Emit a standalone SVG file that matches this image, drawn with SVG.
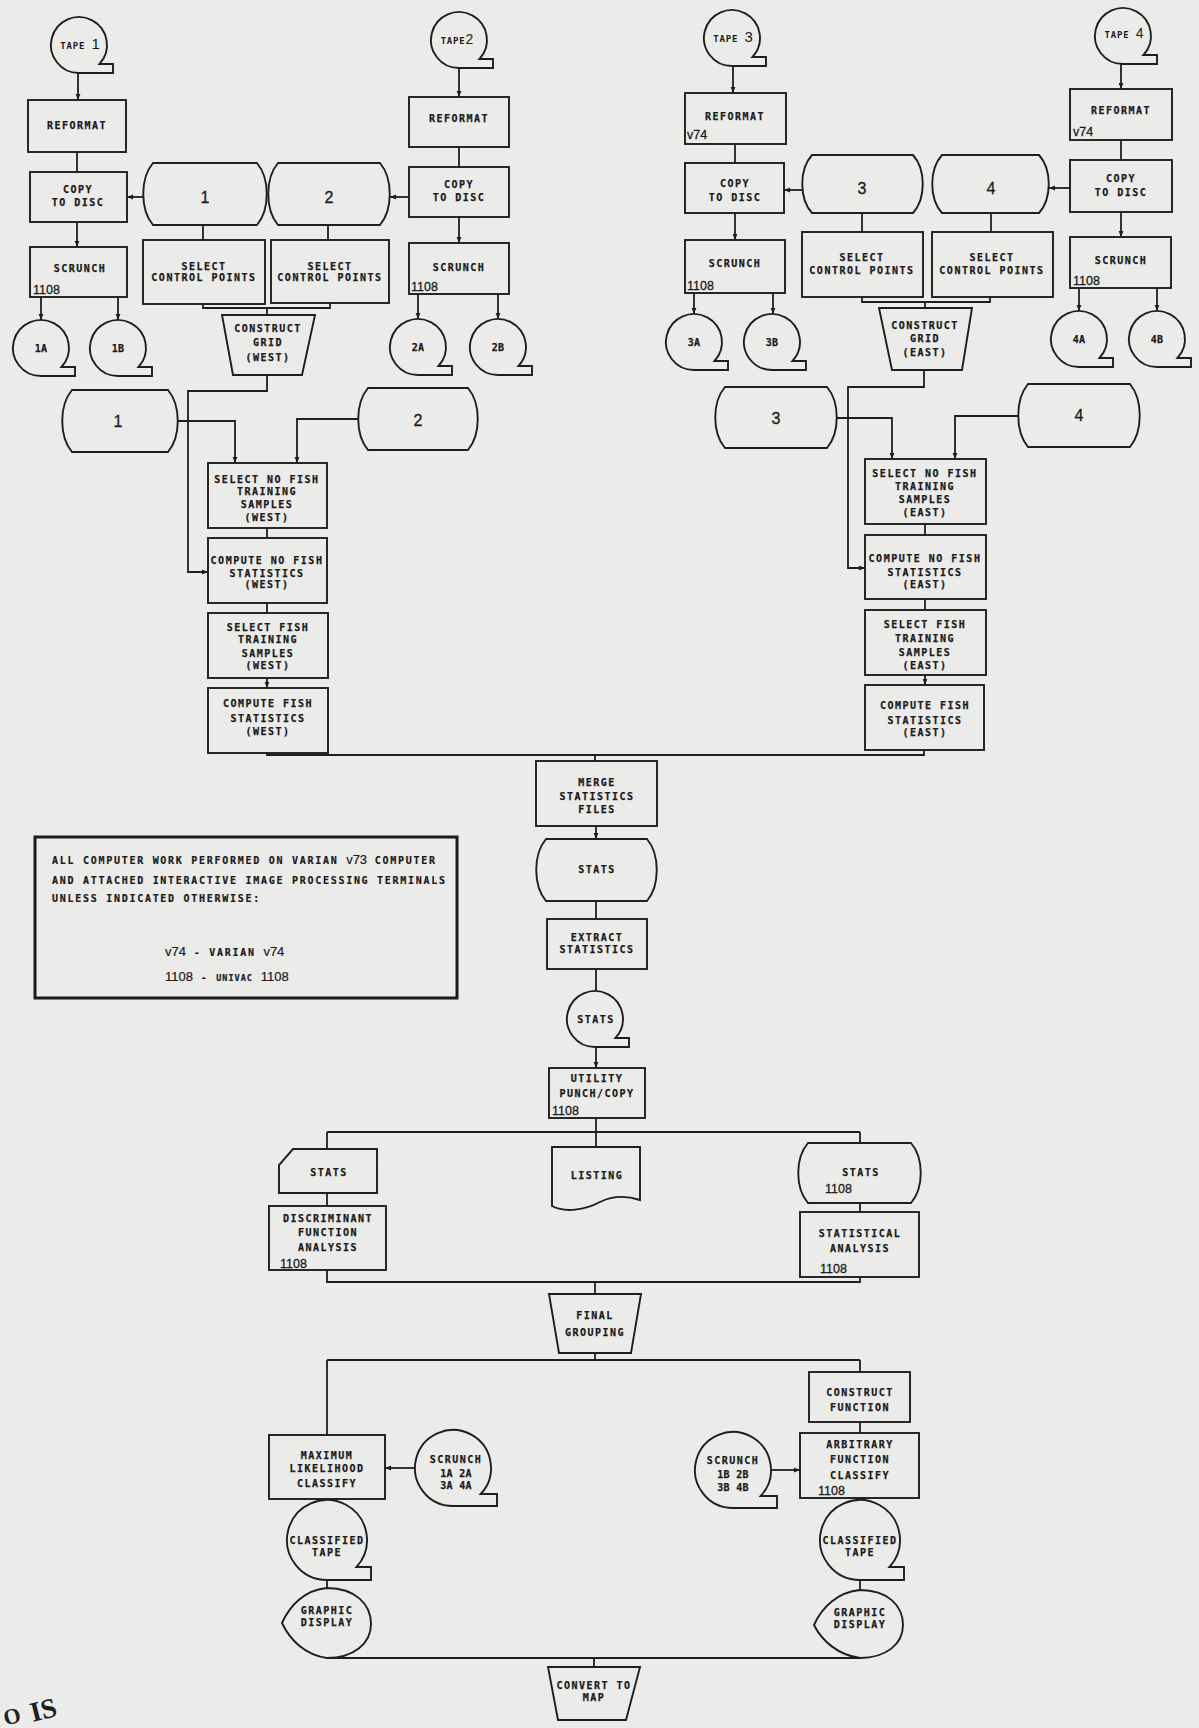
<svg xmlns="http://www.w3.org/2000/svg" xmlns:xlink="http://www.w3.org/1999/xlink" width="1199" height="1728" viewBox="0 0 1199 1728">
<style>
.s{fill:none;stroke:#1e1e1e;stroke-width:1.9}
.c{fill:none;stroke:#1e1e1e;stroke-width:1.8}
.a{marker-end:url(#ah)}
.t{font-family:"DejaVu Sans Mono","Liberation Mono",monospace;font-size:10px;font-weight:bold;letter-spacing:1.5px;fill:#1a1a1a;stroke:#1a1a1a;stroke-width:0.25px;text-anchor:middle}
.tp{font-family:"DejaVu Sans Mono","Liberation Mono",monospace;font-size:9px;font-weight:bold;letter-spacing:0.8px;fill:#1a1a1a;text-anchor:middle}
.z{letter-spacing:0.3px}
.n{font-family:"Liberation Sans",Arial,sans-serif;font-size:12.5px;fill:#1a1a1a;stroke:#1a1a1a;stroke-width:0.3px}
.hn{font-family:"Liberation Sans",Arial,sans-serif;font-size:13px;font-weight:normal;letter-spacing:0px}
.big{font-family:"Liberation Sans",Arial,sans-serif;font-size:16px;fill:#1a1a1a;stroke:#1a1a1a;stroke-width:0.3px;text-anchor:middle}
.lg{font-family:"DejaVu Sans Mono","Liberation Mono",monospace;font-size:10px;font-weight:bold;letter-spacing:1.72px;fill:#1a1a1a;stroke:#1a1a1a;stroke-width:0.2px}
</style>
<defs>
<marker id="ah" viewBox="0 0 10 10" refX="10" refY="5" markerWidth="6" markerHeight="6" markerUnits="userSpaceOnUse" orient="auto"><path d="M0,1 L10,5 L0,9 Z" fill="#1e1e1e"/></marker>
<path id="tp" d="M0,28 A28,28 0 1 1 20.5,19 H34 V28 Z"/>
<path id="tp38" d="M0,38 A38,38 0 1 1 27.7,26 H44 V38 Z"/>
<path id="tp40" d="M0,40 A40,40 0 1 1 29.5,27 H44 V40 Z"/>
</defs>
<rect x="0" y="0" width="1199" height="1728" fill="#ebebea"/>

<g id="connectors">
<path class="c a" d="M78,73 V100"/>
<path class="c" d="M77,152 V172"/>
<path class="c a" d="M77,222 V247"/>
<path class="c a" d="M41,297 V320"/>
<path class="c a" d="M118,297 V320"/>
<path class="c a" d="M143,197 H127"/>
<path class="c" d="M203,225 V240"/>
<path class="c" d="M328,225 V240"/>
<path class="c" d="M203,304 V308 H330 V303"/>
<path class="c" d="M267,308 V315"/>
<path class="c a" d="M267,375 V391 H188 V572 H208"/>
<path class="c a" d="M178,421 H235 V463"/>
<path class="c a" d="M358,419 H297 V463"/>
<path class="c" d="M267,528 V538"/>
<path class="c" d="M267,603 V613"/>
<path class="c a" d="M267,678 V688"/>
<path class="c a" d="M459,68 V97"/>
<path class="c" d="M459,147 V167"/>
<path class="c a" d="M459,217 V243"/>
<path class="c a" d="M409,197 H390"/>
<path class="c a" d="M418,294 V319"/>
<path class="c a" d="M498,294 V319"/>
<path class="c a" d="M733,66 V93"/>
<path class="c" d="M735,144 V163"/>
<path class="c a" d="M735,213 V240"/>
<path class="c a" d="M802,190 H784"/>
<path class="c" d="M862,213 V232"/>
<path class="c" d="M991,213 V232"/>
<path class="c" d="M862,297 V302 H990 V297"/>
<path class="c" d="M925,302 V308"/>
<path class="c a" d="M924,370 V387 H848 V568 H865"/>
<path class="c a" d="M837,418 H892 V459"/>
<path class="c a" d="M1018,416 H955 V459"/>
<path class="c" d="M925,524 V535"/>
<path class="c" d="M925,599 V610"/>
<path class="c a" d="M925,675 V685"/>
<path class="c a" d="M694,293 V314"/>
<path class="c a" d="M773,293 V314"/>
<path class="c a" d="M1121,64 V89"/>
<path class="c" d="M1121,140 V160"/>
<path class="c a" d="M1121,212 V237"/>
<path class="c a" d="M1070,188 H1049"/>
<path class="c a" d="M1079,288 V311"/>
<path class="c a" d="M1157,288 V311"/>
<path class="c" d="M267,753 V755 H924 V750"/>
<path class="c" d="M595,755 V761"/>
<path class="c a" d="M596,826 V839"/>
<path class="c" d="M596,901 V919"/>
<path class="c" d="M596,969 V991"/>
<path class="c a" d="M596,1047 V1068"/>
<path class="c" d="M596,1118 V1132"/>
<path class="c" d="M327,1132 H860"/>
<path class="c" d="M327,1132 V1149"/>
<path class="c" d="M596,1132 V1147"/>
<path class="c" d="M860,1132 V1143"/>
<path class="c" d="M327,1193 V1206"/>
<path class="c" d="M860,1203 V1212"/>
<path class="c" d="M327,1270 V1282 H860 V1277"/>
<path class="c" d="M595,1282 V1294"/>
<path class="c" d="M595,1353 V1360"/>
<path class="c" d="M327,1360 H860"/>
<path class="c" d="M327,1360 V1435"/>
<path class="c" d="M860,1360 V1372"/>
<path class="c" d="M860,1422 V1433"/>
<path class="c a" d="M415,1468 H385"/>
<path class="c a" d="M771,1470 H800"/>
<path class="c" d="M327,1499 V1500"/>
<path class="c" d="M860,1498 V1500"/>
<path class="c" d="M327,1580 V1588"/>
<path class="c" d="M860,1580 V1590"/>
<path class="c" d="M327,1658 H860"/>
<path class="c" d="M594,1658 V1667"/>
</g>

<g id="tape1"><use href="#tp" x="79" y="45" class="s"/><text class="tp" x="80" y="49">TAPE <tspan class="hn" style="font-size:15px">1</tspan></text></g>
<g id="reformat1"><rect class="s" x="28" y="100" width="98" height="52"/><text class="t" x="77" y="129">REFORMAT</text></g>
<g id="copy1"><rect class="s" x="30" y="172" width="97" height="50"/><text class="t" x="78" y="193">COPY</text><text class="t" x="78" y="206">TO DISC</text></g>
<g id="scrunch1"><rect class="s" x="30" y="247" width="97" height="50"/><text class="t" x="80" y="272">SCRUNCH</text><text class="n" x="33" y="294">1108</text></g>
<g id="tape1a"><use href="#tp" x="41" y="348" class="s"/><text class="t z" x="41" y="351.5">1A</text></g>
<g id="tape1b"><use href="#tp" x="118" y="348" class="s"/><text class="t z" x="118" y="351.5">1B</text></g>

<g id="disk1"><path class="s" d="M153,163 H257 C270,178.5 270,209.5 257,225 H153 C140,209.5 140,178.5 153,163 Z"/><text class="big" x="205" y="203">1</text></g>
<g id="disk2"><path class="s" d="M278,163 H380 C393,178.5 393,209.5 380,225 H278 C265,209.5 265,178.5 278,163 Z"/><text class="big" x="329" y="203">2</text></g>
<g id="selcp1"><rect class="s" x="143" y="240" width="122" height="64"/><text class="t" x="204" y="270">SELECT</text><text class="t" x="204" y="281">CONTROL POINTS</text></g>
<g id="selcp2"><rect class="s" x="271" y="240" width="118" height="63"/><text class="t" x="330" y="270">SELECT</text><text class="t" x="330" y="281">CONTROL POINTS</text></g>
<g id="gridwest"><path class="s" d="M222,315 H315 L302,375 H233 Z"/><text class="t" x="268" y="331.5">CONSTRUCT</text><text class="t" x="268" y="345.5">GRID</text><text class="t" x="268" y="360.5">(WEST)</text></g>

<g id="tape2"><use href="#tp" x="459" y="40" class="s"/><text class="tp" x="457" y="44">TAPE<tspan class="hn" style="font-size:14px">2</tspan></text></g>
<g id="reformat2"><rect class="s" x="409" y="97" width="100" height="50"/><text class="t" x="459" y="121.5">REFORMAT</text></g>
<g id="copy2"><rect class="s" x="409" y="167" width="100" height="50"/><text class="t" x="459" y="188">COPY</text><text class="t" x="459" y="201">TO DISC</text></g>
<g id="scrunch2"><rect class="s" x="409" y="243" width="100" height="51"/><text class="t" x="459" y="270.5">SCRUNCH</text><text class="n" x="411" y="291">1108</text></g>
<g id="tape2a"><use href="#tp" x="418" y="347" class="s"/><text class="t z" x="418" y="350.5">2A</text></g>
<g id="tape2b"><use href="#tp" x="498" y="347" class="s"/><text class="t z" x="498" y="350.5">2B</text></g>

<g id="disk1low"><path class="s" d="M72,390 H168 C181,405.5 181,436.5 168,452 H72 C59,436.5 59,405.5 72,390 Z"/><text class="big" x="118" y="427">1</text></g>
<g id="disk2low"><path class="s" d="M368,388 H468 C481,403.5 481,434.5 468,450 H368 C355,434.5 355,403.5 368,388 Z"/><text class="big" x="418" y="426">2</text></g>

<g id="snfw"><rect class="s" x="208" y="463" width="119" height="65"/><text class="t" x="267" y="482.5">SELECT NO FISH</text><text class="t" x="267" y="494.5">TRAINING</text><text class="t" x="267" y="507.5">SAMPLES</text><text class="t" x="267" y="520.5">(WEST)</text></g>
<g id="cnfw"><rect class="s" x="208" y="538" width="119" height="65"/><text class="t" x="267" y="563.5">COMPUTE NO FISH</text><text class="t" x="267" y="576.5">STATISTICS</text><text class="t" x="267" y="587.5">(WEST)</text></g>
<g id="sfw"><rect class="s" x="208" y="613" width="120" height="65"/><text class="t" x="268" y="630.5">SELECT FISH</text><text class="t" x="268" y="642.5">TRAINING</text><text class="t" x="268" y="656.5">SAMPLES</text><text class="t" x="268" y="668.5">(WEST)</text></g>
<g id="cfw"><rect class="s" x="208" y="688" width="120" height="65"/><text class="t" x="268" y="706.5">COMPUTE FISH</text><text class="t" x="268" y="721.5">STATISTICS</text><text class="t" x="268" y="734.5">(WEST)</text></g>

<g id="tape3"><use href="#tp" x="732" y="38" class="s"/><text class="tp" x="733" y="41.5">TAPE <tspan class="hn" style="font-size:15px">3</tspan></text></g>
<g id="reformat3"><rect class="s" x="685" y="93" width="101" height="51"/><text class="t" x="735" y="119.5">REFORMAT</text><text class="n" x="687" y="139">v74</text></g>
<g id="copy3"><rect class="s" x="685" y="163" width="99" height="50"/><text class="t" x="735" y="186.5">COPY</text><text class="t" x="735" y="200.5">TO DISC</text></g>
<g id="scrunch3"><rect class="s" x="685" y="240" width="100" height="53"/><text class="t" x="735" y="266.5">SCRUNCH</text><text class="n" x="687" y="290">1108</text></g>
<g id="tape3a"><use href="#tp" x="694" y="342" class="s"/><text class="t z" x="694" y="345.5">3A</text></g>
<g id="tape3b"><use href="#tp" x="772" y="342" class="s"/><text class="t z" x="772" y="345.5">3B</text></g>
<g id="disk3"><path class="s" d="M812,155 H913 C926,169.5 926,198.5 913,213 H812 C799,198.5 799,169.5 812,155 Z"/><text class="big" x="862" y="194">3</text></g>
<g id="disk4"><path class="s" d="M942,155 H1039 C1052,169.5 1052,198.5 1039,213 H942 C929,198.5 929,169.5 942,155 Z"/><text class="big" x="991" y="194">4</text></g>
<g id="selcp3"><rect class="s" x="802" y="232" width="121" height="65"/><text class="t" x="862" y="260.5">SELECT</text><text class="t" x="862" y="273.5">CONTROL POINTS</text></g>
<g id="selcp4"><rect class="s" x="932" y="232" width="121" height="65"/><text class="t" x="992" y="260.5">SELECT</text><text class="t" x="992" y="273.5">CONTROL POINTS</text></g>
<g id="grideast"><path class="s" d="M879,308 H972 L962,370 H892 Z"/><text class="t" x="925" y="328.5">CONSTRUCT</text><text class="t" x="925" y="341.5">GRID</text><text class="t" x="925" y="355.5">(EAST)</text></g>

<g id="tape4"><use href="#tp" x="1123" y="36" class="s"/><text class="tp" x="1124" y="38">TAPE <tspan class="hn" style="font-size:14px">4</tspan></text></g>
<g id="reformat4"><rect class="s" x="1070" y="89" width="102" height="51"/><text class="t" x="1121" y="113.5">REFORMAT</text><text class="n" x="1073" y="136">v74</text></g>
<g id="copy4"><rect class="s" x="1070" y="160" width="102" height="52"/><text class="t" x="1121" y="181.5">COPY</text><text class="t" x="1121" y="195.5">TO DISC</text></g>
<g id="scrunch4"><rect class="s" x="1070" y="237" width="101" height="51"/><text class="t" x="1121" y="263.5">SCRUNCH</text><text class="n" x="1073" y="285">1108</text></g>
<g id="tape4a"><use href="#tp" x="1079" y="339" class="s"/><text class="t z" x="1079" y="342.5">4A</text></g>
<g id="tape4b"><use href="#tp" x="1157" y="339" class="s"/><text class="t z" x="1157" y="342.5">4B</text></g>

<g id="disk3low"><path class="s" d="M725,387 H827 C840,402.25 840,432.75 827,448 H725 C712,432.75 712,402.25 725,387 Z"/><text class="big" x="776" y="424">3</text></g>
<g id="disk4low"><path class="s" d="M1028,384 H1130 C1143,399.75 1143,431.25 1130,447 H1028 C1015,431.25 1015,399.75 1028,384 Z"/><text class="big" x="1079" y="421">4</text></g>

<g id="snfe"><rect class="s" x="865" y="459" width="121" height="65"/><text class="t" x="925" y="476.5">SELECT NO FISH</text><text class="t" x="925" y="489.5">TRAINING</text><text class="t" x="925" y="502.5">SAMPLES</text><text class="t" x="925" y="515.5">(EAST)</text></g>
<g id="cnfe"><rect class="s" x="865" y="535" width="121" height="64"/><text class="t" x="925" y="561.5">COMPUTE NO FISH</text><text class="t" x="925" y="575.5">STATISTICS</text><text class="t" x="925" y="587.5">(EAST)</text></g>
<g id="sfe"><rect class="s" x="865" y="610" width="121" height="65"/><text class="t" x="925" y="627.5">SELECT FISH</text><text class="t" x="925" y="641.5">TRAINING</text><text class="t" x="925" y="655.5">SAMPLES</text><text class="t" x="925" y="668.5">(EAST)</text></g>
<g id="cfe"><rect class="s" x="865" y="685" width="119" height="65"/><text class="t" x="925" y="708.5">COMPUTE FISH</text><text class="t" x="925" y="723.5">STATISTICS</text><text class="t" x="925" y="735.5">(EAST)</text></g>

<g id="merge"><rect class="s" x="536" y="761" width="121" height="65"/><text class="t" x="597" y="785.5">MERGE</text><text class="t" x="597" y="799.5">STATISTICS</text><text class="t" x="597" y="812.5">FILES</text></g>
<g id="statsdisk"><path class="s" d="M546,839 H647 C660,854.5 660,885.5 647,901 H546 C533,885.5 533,854.5 546,839 Z"/><text class="t" x="597" y="872.5">STATS</text></g>
<g id="extract"><rect class="s" x="547" y="919" width="100" height="50"/><text class="t" x="597" y="940.5">EXTRACT</text><text class="t" x="597" y="952.5">STATISTICS</text></g>
<g id="statstape"><use href="#tp" x="595" y="1019" class="s"/><text class="t" x="596" y="1023">STATS</text></g>
<g id="utility"><rect class="s" x="549" y="1068" width="96" height="50"/><text class="t" x="597" y="1081.5">UTILITY</text><text class="t" x="597" y="1096.5">PUNCH/COPY</text><text class="n" x="552" y="1115">1108</text></g>

<g id="statscard"><path class="s" d="M293,1149 H377 V1193 H279 V1165 Z"/><text class="t" x="329" y="1175.5">STATS</text></g>
<g id="discriminant"><rect class="s" x="269" y="1206" width="117" height="64"/><text class="t" x="328" y="1221.5">DISCRIMINANT</text><text class="t" x="328" y="1235.5">FUNCTION</text><text class="t" x="328" y="1250.5">ANALYSIS</text><text class="n" x="280" y="1268">1108</text></g>
<g id="listing"><path class="s" d="M552,1147 H640 V1200 C625,1195 612,1196 600,1202 C585,1210 565,1213 552,1206 Z"/><text class="t" x="597" y="1178.5">LISTING</text></g>
<g id="stats1108"><path class="s" d="M808,1143 H911 C924,1158 924,1188 911,1203 H808 C795,1188 795,1158 808,1143 Z"/><text class="t" x="861" y="1175.5">STATS</text><text class="n" x="825" y="1193">1108</text></g>
<g id="statistical"><rect class="s" x="800" y="1212" width="119" height="65"/><text class="t" x="860" y="1236.5">STATISTICAL</text><text class="t" x="860" y="1251.5">ANALYSIS</text><text class="n" x="820" y="1273">1108</text></g>

<g id="finalgrouping"><path class="s" d="M549,1294 H641 L631,1353 H559 Z"/><text class="t" x="595" y="1318.5">FINAL</text><text class="t" x="595" y="1335.5">GROUPING</text></g>

<g id="maxlike"><rect class="s" x="269" y="1435" width="116" height="64"/><text class="t" x="327" y="1458.5">MAXIMUM</text><text class="t" x="327" y="1471.5">LIKELIHOOD</text><text class="t" x="327" y="1486.5">CLASSIFY</text></g>
<g id="scrunchA"><use href="#tp38" x="453" y="1468" class="s"/><text class="t" x="456" y="1462.5">SCRUNCH</text><text class="t z" x="456" y="1477">1A 2A</text><text class="t z" x="456" y="1489">3A 4A</text></g>
<g id="constructfn"><rect class="s" x="809" y="1372" width="101" height="50"/><text class="t" x="860" y="1395.5">CONSTRUCT</text><text class="t" x="860" y="1410.5">FUNCTION</text></g>
<g id="arbitrary"><rect class="s" x="800" y="1433" width="119" height="65"/><text class="t" x="860" y="1447.5">ARBITRARY</text><text class="t" x="860" y="1462.5">FUNCTION</text><text class="t" x="860" y="1478.5">CLASSIFY</text><text class="n" x="818" y="1495">1108</text></g>
<g id="scrunchB"><use href="#tp38" x="733" y="1470" class="s"/><text class="t" x="733" y="1464">SCRUNCH</text><text class="t z" x="733" y="1478">1B 2B</text><text class="t z" x="733" y="1491">3B 4B</text></g>

<g id="classifiedL"><use href="#tp40" x="327" y="1540" class="s"/><text class="t" x="327" y="1543.5">CLASSIFIED</text><text class="t" x="327" y="1555.5">TAPE</text></g>
<g id="classifiedR"><use href="#tp40" x="860" y="1540" class="s"/><text class="t" x="860" y="1543.5">CLASSIFIED</text><text class="t" x="860" y="1555.5">TAPE</text></g>
<g id="graphicL"><path class="s" d="M327,1588 C356,1588 371,1605 371,1624 C371,1644 353,1658 327,1658 C305,1655 290,1640 282,1623 C290,1605 305,1590 327,1588 Z"/><text class="t" x="327" y="1613.5">GRAPHIC</text><text class="t" x="327" y="1625.5">DISPLAY</text></g>
<g id="graphicR"><path class="s" d="M860,1590 C888,1590 903,1606 903,1625 C903,1644 886,1658 860,1658 C838,1655 822,1641 814,1625 C822,1607 838,1592 860,1590 Z"/><text class="t" x="860" y="1615.5">GRAPHIC</text><text class="t" x="860" y="1627.5">DISPLAY</text></g>
<g id="convertmap"><path class="s" d="M548,1667 H640 L626,1720 H558 Z"/><text class="t" x="594" y="1688.5">CONVERT TO</text><text class="t" x="594" y="1700.5">MAP</text></g>

<g id="legend"><rect x="35" y="837" width="422" height="161" fill="none" stroke="#1a1a1a" stroke-width="3"/>
<text class="lg" x="52" y="864">ALL COMPUTER WORK PERFORMED ON VARIAN <tspan class="hn">v73</tspan> COMPUTER</text>
<text class="lg" x="52" y="884">AND ATTACHED INTERACTIVE IMAGE PROCESSING TERMINALS</text>
<text class="lg" x="52" y="902">UNLESS INDICATED OTHERWISE:</text>
<text class="lg" x="165" y="956"><tspan class="hn">v74</tspan> - VARIAN <tspan class="hn">v74</tspan></text>
<text class="lg" x="165" y="981"><tspan class="hn">1108</tspan> - <tspan style="font-size:8.5px;letter-spacing:1px">UNIVAC</tspan> <tspan class="hn">1108</tspan></text>
</g>

<g id="margin"><text x="30" y="1720" transform="rotate(-14 40 1710)" font-family="Liberation Serif, serif" font-size="28" font-weight="bold" fill="#1e1e1e">IS</text><text x="3" y="1724" transform="rotate(-14 10 1715)" font-family="Liberation Serif, serif" font-size="22" font-weight="bold" fill="#1e1e1e">O</text></g>
</svg>
